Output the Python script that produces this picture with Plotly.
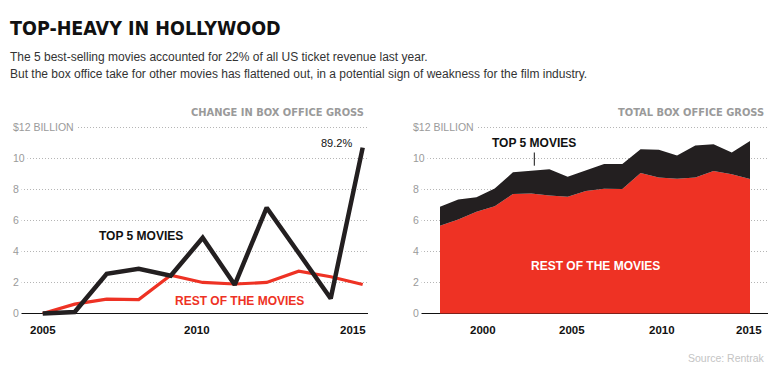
import plotly.graph_objects as go

# ---------------- data ----------------
LEFT_YEARS = [2005, 2006, 2007, 2008, 2009, 2010, 2011, 2012, 2013, 2014, 2015]
TOP5_CHANGE = [0.0, 0.1, 2.56, 2.88, 2.43, 4.88, 1.85, 6.82, 3.9, 0.97, 10.69]
REST_CHANGE = [0.0, 0.6, 0.92, 0.9, 2.47, 2.0, 1.9, 2.0, 2.73, 2.37, 1.87]

RIGHT_YEARS = list(range(1998, 2016))
REST_TOTAL = [5.65, 6.06, 6.56, 6.92, 7.70, 7.74, 7.61, 7.53, 7.89, 8.04,
              8.02, 9.05, 8.77, 8.69, 8.77, 9.18, 8.97, 8.67]
TOP5_TOTAL = [1.23, 1.29, 0.94, 1.14, 1.40, 1.44, 1.68, 1.29, 1.33, 1.59,
              1.61, 1.53, 1.79, 1.50, 2.05, 1.72, 1.40, 2.45]

Y_TICKS = [0, 2, 4, 6, 8, 10, 12]
Y_TICK_TEXT = ["0", "2", "4", "6", "8", "10", "$12 BILLION"]
LEFT_X_LABELS = ["2005", "2010", "2015"]
RIGHT_X_LABELS = ["2000", "2005", "2010", "2015"]

TITLE = "TOP-HEAVY IN HOLLYWOOD"
SUB1 = "The 5 best-selling movies accounted for 22% of all US ticket revenue last year."
SUB2 = ("But the box office take for other movies has flattened out, in a potential "
        "sign of weakness for the film industry.")

# ---------------- style / layout ----------------
W, H = 780, 380
RED = "#ee3224"
BLACK = "#231f20"
GRAY = "#9a9a9a"
SANS = "Liberation Sans, Arial, Helvetica, sans-serif"
NARROW = "Liberation Sans Narrow, Arial Narrow, DejaVu Sans Condensed, sans-serif"


def X(px):
    return px / W


def Y(py):
    return 1 - py / H


PX_PER_UNIT = (313.5 - 127.3) / 12.0
Y_RANGE = [-0.5, 12.3]
Y_DOM = [Y(313.5 - Y_RANGE[0] * PX_PER_UNIT), Y(313.5 - Y_RANGE[1] * PX_PER_UNIT)]

# left panel geometry: 2005 at 42.7px, 32 px / yr, plot from 18 to 367.7
L_X0, L_X1 = 18, 367.7
L_RANGE = [2005 + (L_X0 - 42.7) / 32.0, 2005 + (L_X1 - 42.7) / 32.0]
# right panel: 1998 at 440px, 18.24 px/yr, plot from 418.3 to 767.7
R_X0, R_X1 = 418.3, 767.7
R_PPY = (750 - 440) / 17.0
R_RANGE = [1998 + (R_X0 - 440) / R_PPY, 1998 + (R_X1 - 440) / R_PPY]

LEFT_LABEL_PX = [42.7, 197.3, 352.5]
RIGHT_LABEL_PX = [483.3, 571.7, 661.5, 748.5]

fig = go.Figure()
fig.add_trace(go.Scatter(x=LEFT_YEARS, y=REST_CHANGE, mode="lines",
                         line=dict(color=RED, width=3.2), xaxis="x", yaxis="y",
                         hoverinfo="skip"))
fig.add_trace(go.Scatter(x=LEFT_YEARS, y=TOP5_CHANGE, mode="lines",
                         line=dict(color=BLACK, width=4.5), xaxis="x", yaxis="y",
                         hoverinfo="skip"))
fig.add_trace(go.Scatter(x=RIGHT_YEARS, y=REST_TOTAL, mode="lines", stackgroup="one",
                         fillcolor=RED, line=dict(width=0, color=RED),
                         xaxis="x2", yaxis="y2", hoverinfo="skip"))
fig.add_trace(go.Scatter(x=RIGHT_YEARS, y=TOP5_TOTAL, mode="lines", stackgroup="one",
                         fillcolor=BLACK, line=dict(width=0, color=BLACK),
                         xaxis="x2", yaxis="y2", hoverinfo="skip"))

yax = dict(range=Y_RANGE, domain=Y_DOM, tickvals=Y_TICKS[1:], showticklabels=False,
           showgrid=True, gridcolor="#b5b5b5", gridwidth=1, griddash="1px,2px",
           zeroline=True, zerolinecolor="#111111", zerolinewidth=1.5,
           ticks="", fixedrange=True)
xax = dict(showgrid=False, zeroline=False, showticklabels=False, ticks="",
           fixedrange=True)

fig.update_layout(
    width=W, height=H, margin=dict(l=0, r=0, t=0, b=0),
    paper_bgcolor="white", plot_bgcolor="white", showlegend=False,
    hovermode=False,
    xaxis=dict(xax, domain=[X(L_X0), X(L_X1)], range=L_RANGE),
    yaxis=dict(yax, anchor="x"),
    xaxis2=dict(xax, domain=[X(R_X0), X(R_X1)], range=R_RANGE, anchor="y2"),
    yaxis2=dict(yax, anchor="x2"),
)

ann = []


def text(px, py, s, size, color="#111", family=SANS, xanchor="left",
         yanchor="middle", bold=False, **kw):
    ann.append(dict(x=X(px), y=Y(py), xref="paper", yref="paper",
                    text=f"<b>{s}</b>" if bold else s, showarrow=False,
                    xanchor=xanchor, yanchor=yanchor,
                    font=dict(size=size, color=color, family=family), **kw))


text(8, 28.5, TITLE, 19.5, color="#111111", family=NARROW, bold=True)
text(8, 57, SUB1, 12, color="#333333")
text(8, 73.5, SUB2, 12, color="#333333")
text(366, 112, "CHANGE IN BOX OFFICE GROSS", 11, color=GRAY, family=NARROW,
     xanchor="right", bold=True)
text(766, 112, "TOTAL BOX OFFICE GROSS", 11, color=GRAY, family=NARROW,
     xanchor="right", bold=True)

# y tick labels (white background hides gridline behind text)
for yref, xpx in (("y", 10), ("y2", 410)):
    for v, t in zip(Y_TICKS, Y_TICK_TEXT):
        ann.append(dict(x=X(xpx), y=v, xref="paper", yref=yref, text=t,
                        showarrow=False, xanchor="left", yanchor="middle",
                        bgcolor="white", borderpad=2,
                        font=dict(size=10.5, color=GRAY, family=SANS)))

for px, t in zip(LEFT_LABEL_PX, LEFT_X_LABELS):
    text(px, 329.5, t, 11.5, color="#111", xanchor="center", bold=True)
for px, t in zip(RIGHT_LABEL_PX, RIGHT_X_LABELS):
    text(px, 329.5, t, 11.5, color="#111", xanchor="center", bold=True)

text(354, 143, "89.2%", 11, color="#111", xanchor="right")
text(141, 236, "TOP 5 MOVIES", 12, color="#111", xanchor="center", bold=True)
text(239, 301, "REST OF THE MOVIES", 12, color=RED, xanchor="center", bold=True)
text(533.5, 142.7, "TOP 5 MOVIES", 12, color="#111", xanchor="center", bold=True)
text(595, 265.5, "REST OF THE MOVIES", 12, color="white", xanchor="center", bold=True)
text(766.5, 357.5, "Source: Rentrak", 10.5, color="#c4c4c4", xanchor="right")

fig.update_layout(annotations=ann)
fig.add_shape(type="line", xref="paper", yref="paper",
              x0=X(534.3), x1=X(534.3), y0=Y(152.5), y1=Y(165.7),
              line=dict(color="#111", width=1))

fig.write_html(
    "out.html",
    config={"displayModeBar": False, "staticPlot": True},
    post_script="document.body.style.margin='0';document.body.style.overflow='hidden';",
)
